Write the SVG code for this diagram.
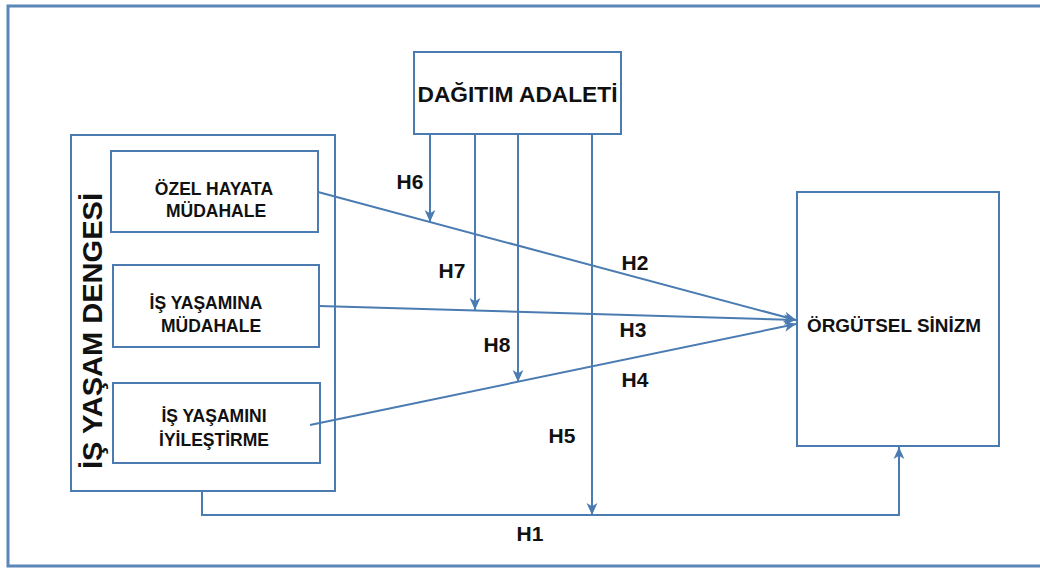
<svg xmlns="http://www.w3.org/2000/svg" width="1040" height="568" viewBox="0 0 1040 568">
  <style>
    .box { fill: #ffffff; stroke: #4a7bb1; stroke-width: 2; }
    .frame { fill: none; stroke: #5a86b8; stroke-width: 3; }
    .conn { fill: none; stroke: #4a7bb1; stroke-width: 2; }
    .arr { marker-end: url(#ah); }
    text { font-family: "Liberation Sans", Arial, sans-serif; font-weight: bold; fill: #111111; }
    .node { font-size: 17.5px; text-anchor: middle; }
    .lbl { font-size: 21px; text-anchor: middle; }
  </style>
  <defs>
    <marker id="ah" markerUnits="userSpaceOnUse" markerWidth="13" markerHeight="13" viewBox="0 0 12 12" refX="11" refY="6" orient="auto">
      <path d="M0,1 L11,6 L0,11 L3,6 z" fill="#4a7bb1"/>
    </marker>
  </defs>
  <rect width="1040" height="568" fill="#ffffff"/>
  <rect class="frame" x="8" y="6" width="1040" height="560"/>

  <g id="is-yasam-dengesi">
    <rect class="box" x="71" y="135" width="264" height="356"/>
    <text transform="translate(102,331) rotate(-90)" style="font-size:27px; text-anchor:middle;" textLength="276" lengthAdjust="spacingAndGlyphs">İŞ YAŞAM DENGESİ</text>
  </g>
  <g id="ozel-hayata-mudahale">
    <rect class="box" x="111" y="151" width="207" height="81"/>
    <text class="node" x="214" y="195">ÖZEL HAYATA</text>
    <text class="node" x="216" y="217">MÜDAHALE</text>
  </g>
  <g id="is-yasamina-mudahale">
    <rect class="box" x="113" y="265" width="206" height="82"/>
    <text class="node" x="206" y="309">İŞ YAŞAMINA</text>
    <text class="node" x="211" y="332">MÜDAHALE</text>
  </g>
  <g id="is-yasamini-iyilestirme">
    <rect class="box" x="113" y="383" width="207" height="80"/>
    <text class="node" x="214" y="422">İŞ YAŞAMINI</text>
    <text class="node" x="214" y="446">İYİLEŞTİRME</text>
  </g>
  <g id="dagitim-adaleti">
    <rect class="box" x="414" y="52" width="207" height="82"/>
    <text x="517.5" y="102" style="font-size:21.5px; text-anchor:middle;" textLength="200" lengthAdjust="spacingAndGlyphs">DAĞITIM ADALETİ</text>
  </g>
  <g id="orgutsel-sinizm">
    <rect class="box" x="797" y="192" width="202" height="254"/>
    <text x="894" y="332" style="font-size:18.5px; text-anchor:middle;" textLength="174" lengthAdjust="spacingAndGlyphs">ÖRGÜTSEL SİNİZM</text>
  </g>

  <g id="connectors">
    <line class="conn arr" x1="318" y1="192" x2="796" y2="320"/>
    <line class="conn arr" x1="319" y1="306" x2="796" y2="320"/>
    <line class="conn arr" x1="310" y1="425" x2="796" y2="324"/>
    <line class="conn arr" x1="430" y1="134" x2="430" y2="222"/>
    <line class="conn arr" x1="475" y1="134" x2="475" y2="310"/>
    <line class="conn arr" x1="518" y1="134" x2="518" y2="382"/>
    <line class="conn arr" x1="592" y1="134" x2="592" y2="515"/>
    <polyline class="conn arr" points="202,491 202,515 899,515 899,447"/>
  </g>

  <g id="labels">
    <text class="lbl" x="410" y="189">H6</text>
    <text class="lbl" x="452" y="278">H7</text>
    <text class="lbl" x="635" y="270">H2</text>
    <text class="lbl" x="633" y="337">H3</text>
    <text class="lbl" x="497" y="352">H8</text>
    <text class="lbl" x="635" y="387">H4</text>
    <text class="lbl" x="562" y="443">H5</text>
    <text class="lbl" x="530" y="541">H1</text>
  </g>
</svg>
